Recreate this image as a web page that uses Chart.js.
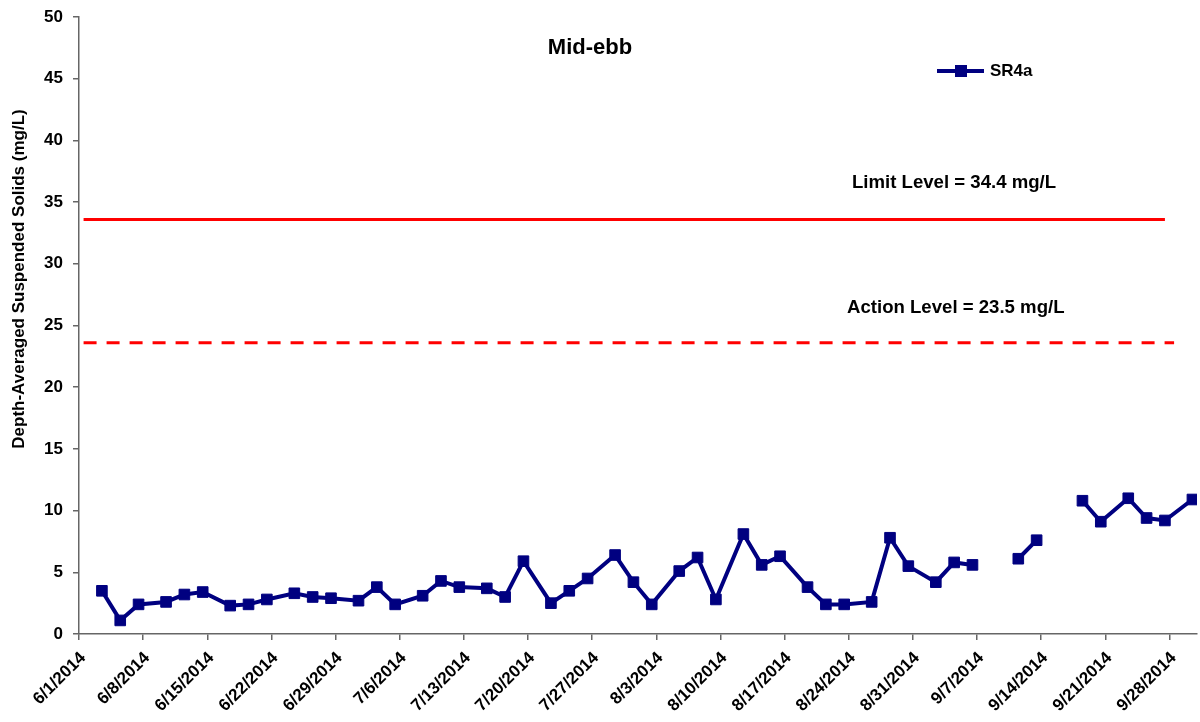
<!DOCTYPE html>
<html>
<head>
<meta charset="utf-8">
<script src="https://cdn.jsdelivr.net/npm/chart.js@4.4.1/dist/chart.umd.min.js"></script>
<style>
  html, body { margin: 0; padding: 0; background: #fff; overflow: hidden; }
  #wrap { width: 1200px; height: 722px; position: relative; }
  canvas { display: block; }
</style>
</head>
<body>
<div id="wrap"><canvas id="chart"></canvas></div>
<script>
// 2014 sampling dates (m/d) and depth-averaged SS at SR4a, mid-ebb (mg/L)
const sampleDates = [
  "6/3", "6/5", "6/7", "6/10", "6/12", "6/14", "6/17", "6/19", "6/21", "6/24",
  "6/26", "6/28", "7/1", "7/3", "7/5", "7/8", "7/10", "7/12", "7/15", "7/17",
  "7/19", "7/22", "7/24", "7/26", "7/29", "7/31", "8/2", "8/5", "8/7", "8/9",
  "8/12", "8/14", "8/16", "8/19", "8/21", "8/23", "8/26", "8/28", "8/30", "9/2",
  "9/4", "9/6", "9/9", "9/11", "9/13", "9/16", "9/18", "9/20", "9/23", "9/25",
  "9/27", "9/30"
];
const sr4a = [
  3.5, 1.1, 2.4, 2.6, 3.2, 3.4, 2.3, 2.4, 2.8, 3.3,
  3.0, 2.9, 2.7, 3.8, 2.4, 3.1, 4.3, 3.8, 3.7, 3.0,
  5.9, 2.5, 3.5, 4.5, 6.4, 4.2, 2.4, 5.1, 6.2, 2.8,
  8.1, 5.6, 6.3, 3.8, 2.4, 2.4, 2.6, 7.8, 5.5, 4.2,
  5.8, 5.6, null, 6.1, 7.6, null, 10.8, 9.1, 11.0, 9.4,
  9.2, 10.9
];

// level lines as drawn (start / end dates and value)
const limitDates = ["6/1", "9/27"];
const limitValues = [33.6, 33.6];
const actionDates = ["6/1", "9/28"];
const actionValues = [23.6, 23.6];

const tickLabels = [
  "6/1/2014", "6/8/2014", "6/15/2014", "6/22/2014", "6/29/2014", "7/6/2014",
  "7/13/2014", "7/20/2014", "7/27/2014", "8/3/2014", "8/10/2014", "8/17/2014",
  "8/24/2014", "8/31/2014", "9/7/2014", "9/14/2014", "9/21/2014", "9/28/2014"
];
const axisStart = "6/1";
const axisEnd = "10/1";

function dayIndex(md) {
  const p = md.split("/");
  const t = Date.UTC(2014, +p[0] - 1, +p[1]);
  const s = axisStart.split("/");
  return Math.round((t - Date.UTC(2014, +s[0] - 1, +s[1])) / 86400000);
}
function dayLabel(v) {
  const s = axisStart.split("/");
  const d = new Date(Date.UTC(2014, +s[0] - 1, +s[1] + Math.round(v)));
  return (d.getUTCMonth() + 1) + "/" + d.getUTCDate() + "/2014";
}
// points sit in the middle of their day slot
function toPoints(dates, values) {
  return dates.map((d, i) => ({ x: dayIndex(d) + 0.5, y: values[i] }));
}

const FONT = "'Liberation Sans', Arial, sans-serif";

const textPlugin = {
  id: "texts",
  afterDraw(chart) {
    const ctx = chart.ctx;
    ctx.save();
    ctx.fillStyle = "#000";
    ctx.textBaseline = "middle";

    ctx.font = "bold 22px " + FONT;
    ctx.textAlign = "center";
    ctx.fillText("Mid-ebb", 590, 48);

    ctx.font = "bold 18.6px " + FONT;
    ctx.textAlign = "left";
    ctx.fillText("Limit Level = 34.4 mg/L", 852, 183);
    ctx.fillText("Action Level = 23.5 mg/L", 847, 308);

    // legend
    ctx.strokeStyle = "#000080";
    ctx.lineWidth = 4;
    ctx.beginPath();
    ctx.moveTo(937, 71);
    ctx.lineTo(984, 71);
    ctx.stroke();
    ctx.fillStyle = "#000080";
    ctx.fillRect(955, 65, 12, 12);
    ctx.fillStyle = "#000";
    ctx.font = "bold 17px " + FONT;
    ctx.fillText("SR4a", 990, 71);

    // y-axis title
    ctx.translate(19, 279);
    ctx.rotate(-Math.PI / 2);
    ctx.textAlign = "center";
    ctx.font = "bold 17px " + FONT;
    ctx.fillText("Depth-Averaged Suspended Solids (mg/L)", 0, 0);
    ctx.restore();
  }
};

new Chart(document.getElementById("chart").getContext("2d"), {
  type: "line",
  data: {
    datasets: [
      {
        label: "SR4a",
        data: toPoints(sampleDates, sr4a),
        borderColor: "#000080",
        backgroundColor: "#000080",
        borderWidth: 4,
        pointStyle: "rect",
        pointRadius: 7.5,
        pointBorderWidth: 1,
        spanGaps: false,
        tension: 0,
        order: 0
      },
      {
        label: "Limit Level",
        data: toPoints(limitDates, limitValues),
        borderColor: "#ff0000",
        borderWidth: 3,
        pointRadius: 0,
        order: 1
      },
      {
        label: "Action Level",
        data: toPoints(actionDates, actionValues),
        borderColor: "#ff0000",
        borderWidth: 3,
        borderDash: [13, 10],
        pointRadius: 0,
        order: 2
      }
    ]
  },
  options: {
    responsive: true,
    maintainAspectRatio: false,
    animation: false,
    layout: {
      autoPadding: false,
      padding: { top: 17, right: 3, left: 0, bottom: 0 }
    },
    plugins: {
      legend: { display: false },
      tooltip: { enabled: false }
    },
    scales: {
      x: {
        type: "linear",
        min: dayIndex(axisStart),
        max: dayIndex(axisEnd),
        afterBuildTicks(scale) {
          scale.ticks = tickLabels.map(t => ({ value: dayIndex(t.slice(0, t.lastIndexOf("/"))) }));
        },
        afterFit(scale) {
          scale.height = 88;
          scale.paddingLeft = 0;
          scale.paddingRight = 0;
        },
        grid: { drawOnChartArea: false, tickLength: 6, color: "#666", lineWidth: 1.5 },
        border: { color: "#666", width: 1.5 },
        ticks: {
          autoSkip: false,
          minRotation: 45,
          maxRotation: 45,
          color: "#000",
          padding: 8,
          labelOffset: 4,
          font: { family: FONT, size: 17, weight: "bold" },
          callback: v => dayLabel(v)
        }
      },
      y: {
        min: 0,
        max: 50,
        afterFit(scale) {
          scale.width = 79;
          scale.paddingTop = 0;
          scale.paddingBottom = 0;
        },
        grid: { drawOnChartArea: false, tickLength: 6, color: "#666", lineWidth: 1.5 },
        border: { color: "#666", width: 1.5 },
        ticks: {
          stepSize: 5,
          color: "#000",
          padding: 10,
          font: { family: FONT, size: 17, weight: "bold" }
        }
      }
    }
  },
  plugins: [textPlugin]
});
</script>
</body>
</html>
